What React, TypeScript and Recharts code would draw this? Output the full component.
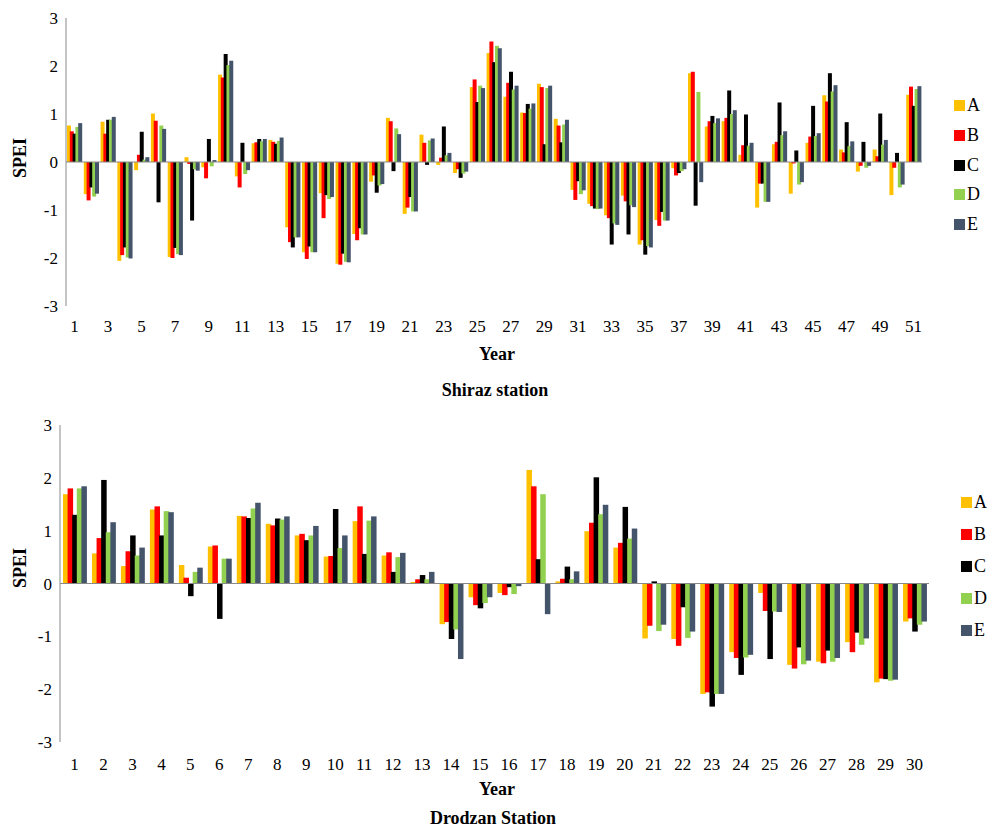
import React from "react"
import { BarChart, Bar, XAxis, YAxis, ReferenceLine, Legend } from "recharts"

const seriesNames = ["A", "B", "C", "D", "E"]
const seriesColors = ["#FFC000", "#FF0000", "#000000", "#92D050", "#44546A"]
const speiTicks = [-3, -2, -1, 0, 1, 2, 3]

// Shiraz station, 51 years
const shirazYears = [
	1, 2, 3, 4, 5, 6, 7, 8, 9, 10, 11, 12, 13, 14, 15, 16, 17, 18, 19, 20, 21, 22, 23, 24, 25, 26,
	27, 28, 29, 30, 31, 32, 33, 34, 35, 36, 37, 38, 39, 40, 41, 42, 43, 44, 45, 46, 47, 48, 49, 50, 51,
]
const shirazA = [
	0.76, -0.67, 0.84, -2.06, -0.17, 1.01, -1.98, 0.1, -0.11, 1.82, -0.3, 0.39, 0.46, -1.36, -1.88, -0.65,
	-2.12, -1.5, -0.41, 0.92, -1.08, 0.57, -0.06, -0.23, 1.56, 2.27, 1.36, 1.03, 1.63, 0.9, -0.58, -0.87,
	-1.11, -0.7, -1.72, -1.21, -0.13, 1.85, 0.74, 0.85, 0.15, -0.95, 0.37, -0.66, 0.4, 1.39, 0.26, -0.2,
	0.26, -0.69, 1.4,
]
const shirazB = [
	0.64, -0.8, 0.59, -1.94, 0.15, 0.86, -2.0, -0.04, -0.34, 1.76, -0.53, 0.41, 0.42, -1.67, -2.02, -1.17,
	-2.14, -1.63, -0.28, 0.85, -0.95, 0.4, 0.09, -0.15, 1.72, 2.51, 1.65, 1.02, 1.56, 0.76, -0.79, -0.92,
	-1.17, -0.82, -1.63, -1.33, -0.28, 1.88, 0.85, 0.92, 0.35, -0.45, 0.42, -0.03, 0.53, 1.26, 0.2, -0.08,
	0.12, -0.12, 1.57,
]
const shirazC = [
	0.59, -0.53, 0.88, -1.78, 0.63, -0.84, -1.79, -1.22, 0.48, 2.25, 0.4, 0.48, 0.38, -1.78, -1.76, -0.69,
	-1.91, -1.38, -0.64, -0.19, -0.73, -0.06, 0.74, -0.33, 1.25, 2.08, 1.88, 1.21, 0.37, 0.41, -0.4, -0.97,
	-1.72, -1.51, -1.93, -1.04, -0.23, -0.91, 0.96, 1.49, 0.99, -0.45, 1.24, 0.24, 1.17, 1.85, 0.83, 0.42,
	1.01, 0.19, 1.17,
]
const shirazD = [
	0.73, -0.72, 0.88, -1.99, 0.05, 0.76, -1.92, -0.15, -0.09, 2.02, -0.25, 0.43, 0.44, -1.57, -1.88, -0.77,
	-2.08, -1.51, -0.49, 0.7, -1.03, 0.45, 0.14, -0.24, 1.59, 2.42, 1.51, 1.11, 1.54, 0.78, -0.67, -0.98,
	-1.28, -0.9, -1.75, -1.22, -0.19, 1.46, 0.81, 1.0, 0.34, -0.83, 0.56, -0.47, 0.54, 1.47, 0.33, -0.12,
	0.36, -0.53, 1.52,
]
const shirazE = [
	0.81, -0.66, 0.94, -2.01, 0.1, 0.69, -1.94, -0.18, 0.04, 2.11, -0.17, 0.48, 0.51, -1.57, -1.88, -0.73,
	-2.09, -1.51, -0.46, 0.58, -1.03, 0.49, 0.19, -0.2, 1.54, 2.37, 1.59, 1.22, 1.59, 0.88, -0.59, -0.97,
	-1.31, -0.94, -1.78, -1.22, -0.15, -0.42, 0.91, 1.08, 0.4, -0.83, 0.64, -0.42, 0.6, 1.6, 0.43, -0.08,
	0.46, -0.47, 1.58,
]

// Drodzan station, 30 years
const drodzanYears = [
	1, 2, 3, 4, 5, 6, 7, 8, 9, 10, 11, 12, 13, 14, 15, 16, 17, 18, 19, 20, 21, 22, 23, 24, 25, 26, 27,
	28, 29, 30,
]
const drodzanA = [
	1.69, 0.57, 0.33, 1.4, 0.35, 0.7, 1.28, 1.13, 0.91, 0.51, 1.18, 0.53, 0.03, -0.77, -0.26, -0.18, 2.15,
	0.04, 0.99, 0.68, -1.04, -1.05, -2.09, -1.3, -0.18, -1.54, -1.48, -1.11, -1.87, -0.72,
]
const drodzanB = [
	1.8, 0.86, 0.61, 1.46, 0.11, 0.72, 1.27, 1.1, 0.94, 0.52, 1.46, 0.59, 0.08, -0.73, -0.41, -0.22, 1.84,
	0.09, 1.15, 0.77, -0.8, -1.18, -2.06, -1.41, -0.52, -1.61, -1.51, -1.3, -1.8, -0.66,
]
const drodzanC = [
	1.3, 1.96, 0.91, 0.91, -0.24, -0.67, 1.24, 1.23, 0.82, 1.41, 0.56, 0.22, 0.16, -1.05, -0.47, -0.07, 0.46,
	0.32, 2.01, 1.45, 0.04, -0.45, -2.33, -1.73, -1.43, -1.21, -1.27, -0.93, -1.81, -0.91,
]
const drodzanD = [
	1.8, 0.97, 0.53, 1.37, 0.22, 0.47, 1.42, 1.21, 0.91, 0.67, 1.19, 0.5, 0.08, -0.87, -0.37, -0.2, 1.69,
	0.08, 1.31, 0.85, -0.9, -1.03, -2.09, -1.4, -0.53, -1.53, -1.48, -1.16, -1.84, -0.78,
]
const drodzanE = [
	1.84, 1.16, 0.68, 1.35, 0.3, 0.47, 1.53, 1.27, 1.09, 0.91, 1.27, 0.58, 0.22, -1.43, -0.26, -0.05, -0.58,
	0.23, 1.49, 1.04, -0.78, -0.91, -2.09, -1.35, -0.54, -1.46, -1.41, -1.04, -1.82, -0.72,
]

const buildRows = (years: number[], cols: number[][]) =>
	years.map((year, i) => {
		const row: Record<string, number> = { year }
		seriesNames.forEach((name, s) => {
			row[name] = cols[s][i]
		})
		return row
	})

const shirazData = buildRows(shirazYears, [shirazA, shirazB, shirazC, shirazD, shirazE])
const drodzanData = buildRows(drodzanYears, [drodzanA, drodzanB, drodzanC, drodzanD, drodzanE])

const font = "'Liberation Serif', 'Times New Roman', serif"
const tickStyle = { fontSize: 17, fill: "#000", fontFamily: font }
const axisGray = "#898989"

const boldText: React.CSSProperties = {
	position: "absolute",
	fontFamily: font,
	fontWeight: "bold",
	fontSize: 18,
	color: "#000",
	whiteSpace: "nowrap",
	lineHeight: "20px",
}

const LegendBox = ({ step }: { step: number }) => (
	<div style={{ fontFamily: font, fontSize: 18, color: "#000" }}>
		{seriesNames.map((name, i) => (
			<div key={name} style={{ display: "flex", alignItems: "center", height: step }}>
				<span
					style={{
						display: "inline-block",
						width: 11,
						height: 11,
						background: seriesColors[i],
						marginRight: 2,
					}}
				/>
				<span>{name}</span>
			</div>
		))}
	</div>
)

const SpeiLabel = ({ cx, cy }: { cx: number; cy: number }) => (
	<div
		style={{
			...boldText,
			left: cx - 30,
			top: cy - 10,
			width: 60,
			textAlign: "center",
			transform: "rotate(-90deg)",
		}}>
		SPEI
	</div>
)

const App = () => {
	return (
		<div style={{ position: "absolute", left: 0, top: 0, width: 1003, height: 828, background: "#fff" }}>
			{/* Shiraz */}
			<div style={{ position: "absolute", left: 0, top: 0 }}>
				<BarChart
					width={1003}
					height={350}
					data={shirazData}
					margin={{ top: 18, right: 81, bottom: 0, left: 0 }}
					barSize={4}
					barGap={-1.2}>
					<XAxis
						dataKey="year"
						height={44}
						axisLine={false}
						tickLine={false}
						interval={1}
						tickMargin={8}
						tick={tickStyle}
					/>
					<YAxis
						width={66}
						domain={[-3, 3]}
						ticks={speiTicks}
						axisLine={{ stroke: axisGray }}
						tickLine={false}
						tick={tickStyle}
					/>
					<ReferenceLine y={0} stroke={axisGray} />
					{seriesNames.map((name, i) => (
						<Bar key={name} dataKey={name} fill={seriesColors[i]} isAnimationActive={false} />
					))}
					<Legend
						layout="vertical"
						align="center"
						verticalAlign="middle"
						wrapperStyle={{ left: 954, top: 91, width: 40 }}
						content={() => <LegendBox step={29.7} />}
					/>
				</BarChart>
			</div>
			<SpeiLabel cx={20} cy={158} />
			<div style={{ ...boldText, left: 0, width: 994, top: 344, textAlign: "center" }}>Year</div>
			<div style={{ ...boldText, left: 0, width: 990, top: 380, textAlign: "center" }}>Shiraz station</div>

			{/* Drodzan */}
			<div style={{ position: "absolute", left: 0, top: 400 }}>
				<BarChart
					width={1003}
					height={400}
					data={drodzanData}
					margin={{ top: 25, right: 74, bottom: 0, left: 0 }}
					barSize={5.5}
					barGap={-0.9}>
					<XAxis
						dataKey="year"
						height={58}
						axisLine={false}
						tickLine={false}
						interval={0}
						tickMargin={10}
						tick={tickStyle}
					/>
					<YAxis
						width={60}
						domain={[-3, 3]}
						ticks={speiTicks}
						axisLine={{ stroke: axisGray }}
						tickLine={false}
						tick={tickStyle}
					/>
					<ReferenceLine y={0} stroke={axisGray} />
					{seriesNames.map((name, i) => (
						<Bar key={name} dataKey={name} fill={seriesColors[i]} isAnimationActive={false} />
					))}
					<Legend
						layout="vertical"
						align="center"
						verticalAlign="middle"
						wrapperStyle={{ left: 961, top: 86, width: 40 }}
						content={() => <LegendBox step={32} />}
					/>
				</BarChart>
			</div>
			<SpeiLabel cx={20} cy={568} />
			<div style={{ ...boldText, left: 0, width: 994, top: 779, textAlign: "center" }}>Year</div>
			<div style={{ ...boldText, left: 0, width: 986, top: 808, textAlign: "center" }}>Drodzan Station</div>
		</div>
	)
}

export default App
